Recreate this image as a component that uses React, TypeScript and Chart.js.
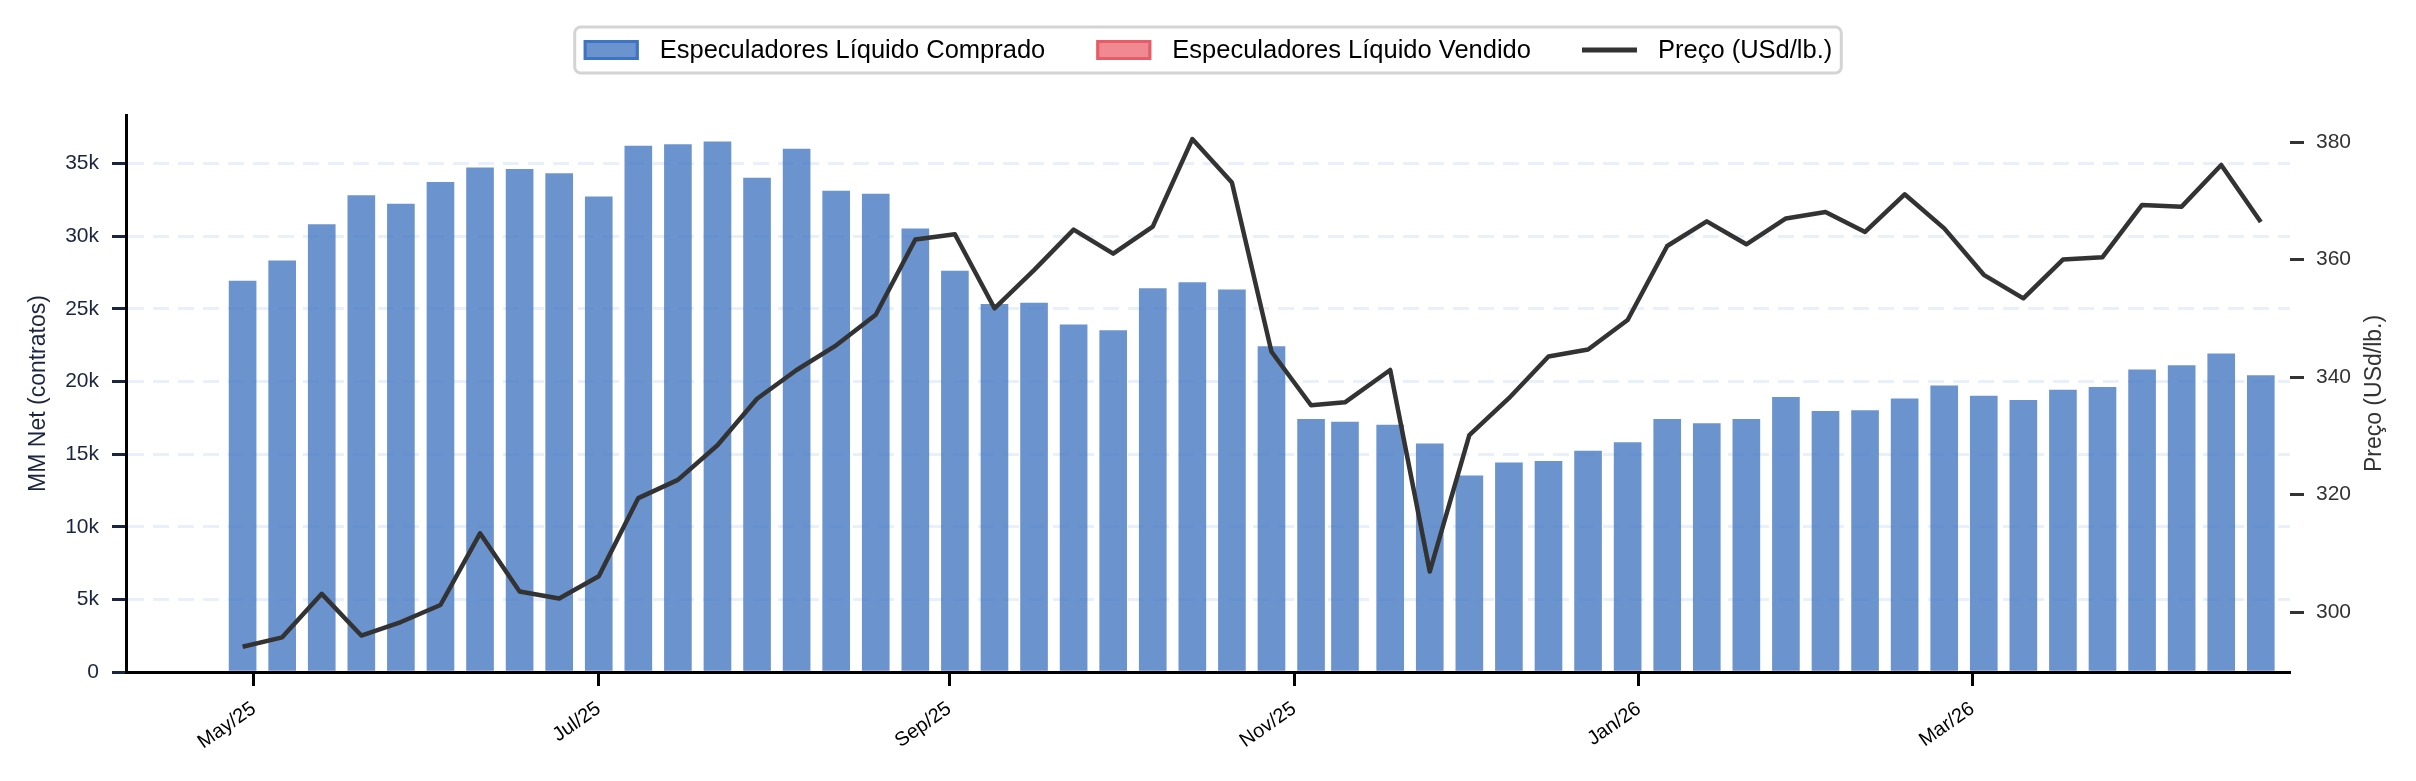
import { useEffect, useRef } from 'react';
import { Chart, registerables } from 'chart.js';

Chart.register(...registerables);

// Weekly report dates (Tuesdays)
const weekDates = [
  '2025-04-29', '2025-05-06', '2025-05-13', '2025-05-20', '2025-05-27',
  '2025-06-03', '2025-06-10', '2025-06-17', '2025-06-24',
  '2025-07-01', '2025-07-08', '2025-07-15', '2025-07-22', '2025-07-29',
  '2025-08-05', '2025-08-12', '2025-08-19', '2025-08-26',
  '2025-09-02', '2025-09-09', '2025-09-16', '2025-09-23', '2025-09-30',
  '2025-10-07', '2025-10-14', '2025-10-21', '2025-10-28',
  '2025-11-04', '2025-11-10', '2025-11-18', '2025-11-25',
  '2025-12-02', '2025-12-09', '2025-12-16', '2025-12-23', '2025-12-30',
  '2026-01-06', '2026-01-13', '2026-01-20', '2026-01-27',
  '2026-02-03', '2026-02-10', '2026-02-17', '2026-02-24',
  '2026-03-03', '2026-03-10', '2026-03-17', '2026-03-24', '2026-03-31',
  '2026-04-07', '2026-04-14', '2026-04-21',
];

// Managed-money net position (contracts)
const netPositions = [
  26900, 28300, 30800, 32800, 32200, 33700, 34700, 34600, 34300,
  32700, 36200, 36300, 36500, 34000, 36000, 33100, 32900, 30500,
  27600, 25300, 25400, 23900, 23500, 26400, 26800, 26300, 22400,
  17400, 17200, 17000, 15700, 13500, 14400, 14500, 15200, 15800,
  17400, 17100, 17400, 18900, 17950, 18000, 18800, 19700, 19000,
  18700, 19400, 19600, 20800, 21100, 21900, 20400,
];

// Price (USd/lb.)
const prices = [
  294.1, 295.7, 303.1, 296.0, 298.3, 301.2, 313.4, 303.5, 302.3,
  306.1, 319.4, 322.5, 328.4, 336.3, 341.2, 345.4, 350.6, 363.4,
  364.3, 351.7, 358.2, 365.1, 361.0, 365.6, 380.5, 373.1, 344.3,
  335.2, 335.7, 341.2, 306.9, 330.1, 336.4, 343.5, 344.7, 349.7,
  362.3, 366.5, 362.6, 367.0, 368.1, 364.7, 371.1, 365.3, 357.4,
  353.4, 360.0, 360.4, 369.3, 369.0, 376.1, 366.4,
];

const xTickDates = ['2025-05-01', '2025-07-01', '2025-09-01', '2025-11-01', '2026-01-01', '2026-03-01'];
const xTickLabels = ['May/25', 'Jul/25', 'Sep/25', 'Nov/25', 'Jan/26', 'Mar/26'];
const leftTicks = [0, 5000, 10000, 15000, 20000, 25000, 30000, 35000];
const leftTickLabels = ['0', '5k', '10k', '15k', '20k', '25k', '30k', '35k'];
const rightTicks = [300, 320, 340, 360, 380];

const X_MIN = '2025-04-08T09:00:00Z';
const X_MAX = '2026-04-26T04:00:00Z';
const LEFT_MIN = 0;
const LEFT_MAX = 38340;
const RIGHT_MIN = 289.8;
const RIGHT_MAX = 384.6;

const LONG_LABEL = 'Especuladores Líquido Comprado';
const SHORT_LABEL = 'Especuladores Líquido Vendido';
const PRICE_LABEL = 'Preço (USd/lb.)';
const LEFT_TITLE = 'MM Net (contratos)';

const FONT = '"Liberation Sans", Arial, Helvetica, sans-serif';
const NAVY = '#1b2540';
const DARK = '#333333';
const LONG_FILL = 'rgba(74,124,196,0.82)';
const LONG_EDGE = 'rgb(62,116,196)';
const SHORT_FILL = 'rgba(232,65,80,0.62)';
const SHORT_EDGE = 'rgb(232,92,104)';
const GRID = 'rgba(225,235,250,0.75)';

const toDay = (iso: string) =>
  Date.parse(iso.length === 10 ? iso + 'T00:00:00Z' : iso) / 86400000;

// Legend box at the top plus the right-hand axis title (reads bottom to top)
const legendPlugin = {
  id: 'legendAndRightTitle',
  afterDraw(chart: any) {
    const ctx: CanvasRenderingContext2D = chart.ctx;
    ctx.save();
    ctx.font = `25.5px ${FONT}`;
    const items = [
      { kind: 'patch', fill: LONG_FILL, stroke: LONG_EDGE, text: LONG_LABEL },
      { kind: 'patch', fill: SHORT_FILL, stroke: SHORT_EDGE, text: SHORT_LABEL },
      { kind: 'line', fill: DARK, stroke: DARK, text: PRICE_LABEL },
    ];
    const widths = items.map((it) => ctx.measureText(it.text).width);
    const padX = 9;
    const handleW = 55;
    const handleGap = 21;
    const itemGap = 51;
    const total =
      padX * 2 +
      items.length * (handleW + handleGap) +
      widths.reduce((a, b) => a + b, 0) +
      itemGap * (items.length - 1);
    const boxX = chart.width / 2 - total / 2;
    const boxY = 27;
    const boxH = 46;
    const r = 6;

    ctx.beginPath();
    ctx.moveTo(boxX + r, boxY);
    ctx.lineTo(boxX + total - r, boxY);
    ctx.arcTo(boxX + total, boxY, boxX + total, boxY + r, r);
    ctx.lineTo(boxX + total, boxY + boxH - r);
    ctx.arcTo(boxX + total, boxY + boxH, boxX + total - r, boxY + boxH, r);
    ctx.lineTo(boxX + r, boxY + boxH);
    ctx.arcTo(boxX, boxY + boxH, boxX, boxY + boxH - r, r);
    ctx.lineTo(boxX, boxY + r);
    ctx.arcTo(boxX, boxY, boxX + r, boxY, r);
    ctx.closePath();
    ctx.fillStyle = 'rgba(255,255,255,0.9)';
    ctx.fill();
    ctx.lineWidth = 3;
    ctx.strokeStyle = '#d4d4d4';
    ctx.stroke();

    const cy = boxY + boxH / 2;
    let x = boxX + padX;
    items.forEach((it, i) => {
      if (it.kind === 'patch') {
        ctx.fillStyle = it.fill;
        ctx.fillRect(x, cy - 10, handleW, 20);
        ctx.lineWidth = 3;
        ctx.strokeStyle = it.stroke;
        ctx.strokeRect(x + 1.5, cy - 8.5, handleW - 3, 17);
      } else {
        ctx.beginPath();
        ctx.moveTo(x, cy);
        ctx.lineTo(x + handleW, cy);
        ctx.lineWidth = 5;
        ctx.strokeStyle = it.stroke;
        ctx.stroke();
      }
      x += handleW + handleGap;
      ctx.fillStyle = '#000';
      ctx.textAlign = 'left';
      ctx.textBaseline = 'middle';
      ctx.fillText(it.text, x, cy + 1);
      x += widths[i] + itemGap;
    });

    const area = chart.chartArea;
    ctx.translate(area.right + 85, (area.top + area.bottom) / 2);
    ctx.rotate(-Math.PI / 2);
    ctx.font = `23px ${FONT}`;
    ctx.fillStyle = DARK;
    ctx.textAlign = 'center';
    ctx.textBaseline = 'middle';
    ctx.fillText(PRICE_LABEL, 0, 0);
    ctx.restore();
  },
};

export default function App() {
  const canvasRef = useRef<HTMLCanvasElement | null>(null);

  useEffect(() => {
    const canvas = canvasRef.current;
    if (!canvas) return;

    const longData = weekDates.map((d, i) => ({
      x: toDay(d),
      y: netPositions[i] >= 0 ? netPositions[i] : null,
    }));
    const shortData = weekDates.map((d, i) => ({
      x: toDay(d),
      y: netPositions[i] < 0 ? netPositions[i] : null,
    }));
    const priceData = weekDates.map((d, i) => ({ x: toDay(d), y: prices[i] }));

    const chart = new Chart(canvas, {
      type: 'bar',
      data: {
        datasets: [
          {
            type: 'bar',
            label: LONG_LABEL,
            data: longData as any,
            yAxisID: 'y',
            backgroundColor: LONG_FILL,
            borderWidth: 0,
            grouped: false,
            categoryPercentage: 1,
            barPercentage: 1,
            maxBarThickness: 27,
            order: 1,
          },
          {
            type: 'bar',
            label: SHORT_LABEL,
            data: shortData as any,
            yAxisID: 'y',
            backgroundColor: SHORT_FILL,
            borderWidth: 0,
            grouped: false,
            categoryPercentage: 1,
            barPercentage: 1,
            maxBarThickness: 27,
            order: 1,
          },
          {
            type: 'line',
            label: PRICE_LABEL,
            data: priceData as any,
            yAxisID: 'y1',
            borderColor: DARK,
            backgroundColor: DARK,
            borderWidth: 4.5,
            borderJoinStyle: 'round',
            pointRadius: 0,
            tension: 0,
            fill: false,
            order: 0,
          },
        ],
      } as any,
      options: {
        responsive: false,
        animation: false,
        devicePixelRatio: 1,
        layout: { padding: { top: 115, left: 0, right: 0, bottom: 0 } },
        plugins: {
          legend: { display: false },
          tooltip: { enabled: false },
          title: { display: false },
        },
        scales: {
          x: {
            type: 'linear',
            min: toDay(X_MIN),
            max: toDay(X_MAX),
            offset: false,
            afterBuildTicks: (s: any) => {
              s.ticks = xTickDates.map((d) => ({ value: toDay(d) }));
            },
            afterFit: (s: any) => {
              s.height = 109;
            },
            ticks: {
              autoSkip: false,
              minRotation: 35,
              maxRotation: 35,
              color: '#000',
              padding: 11,
              font: { family: FONT, size: 20 },
              callback: (_v: any, i: number) => xTickLabels[i],
            },
            grid: {
              display: true,
              offset: false,
              drawOnChartArea: false,
              drawTicks: true,
              tickLength: 14,
              tickColor: '#000',
              tickWidth: 3,
            },
            border: { display: true, color: '#000', width: 3 },
          },
          y: {
            type: 'linear',
            position: 'left',
            min: LEFT_MIN,
            max: LEFT_MAX,
            afterBuildTicks: (s: any) => {
              s.ticks = leftTicks.map((v) => ({ value: v }));
            },
            afterFit: (s: any) => {
              s.width = 126;
            },
            ticks: {
              color: NAVY,
              padding: 13,
              font: { family: FONT, size: 21 },
              callback: (_v: any, i: number) => leftTickLabels[i],
            },
            grid: {
              color: GRID,
              lineWidth: 3,
              drawTicks: true,
              tickLength: 14,
              tickColor: NAVY,
              tickWidth: 3,
              tickBorderDash: [],
            },
            border: { display: true, color: '#000', width: 3, dash: [16, 9] },
            title: {
              display: true,
              text: LEFT_TITLE,
              color: NAVY,
              font: { family: FONT, size: 23 },
              padding: { top: 25, bottom: 0 },
            },
          },
          y1: {
            type: 'linear',
            position: 'right',
            min: RIGHT_MIN,
            max: RIGHT_MAX,
            afterBuildTicks: (s: any) => {
              s.ticks = rightTicks.map((v) => ({ value: v }));
            },
            afterFit: (s: any) => {
              s.width = 126;
            },
            ticks: {
              color: DARK,
              padding: 12,
              font: { family: FONT, size: 21 },
              callback: (v: any) => String(v),
            },
            grid: {
              display: true,
              drawOnChartArea: false,
              drawTicks: true,
              tickLength: 14,
              tickColor: DARK,
              tickWidth: 3,
            },
            border: { display: false },
          },
        },
      } as any,
      plugins: [legendPlugin],
    });

    return () => chart.destroy();
  }, []);

  return (
    <div
      style={{
        position: 'absolute',
        left: 0,
        top: 0,
        width: 2416,
        height: 781,
        background: '#fff',
      }}
    >
      <canvas
        ref={canvasRef}
        width={2416}
        height={781}
        style={{ display: 'block', width: 2416, height: 781 }}
      />
    </div>
  );
}
